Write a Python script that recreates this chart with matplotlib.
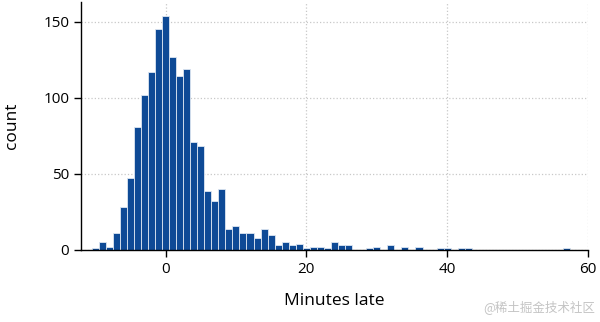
import numpy as np
import matplotlib.pyplot as plt

# minutes late (bin centres) and counts
minutes = list(range(-10, 58))
counts = [1, 5, 2, 11, 28, 47, 81, 102, 117, 145,
          154, 127, 114, 119, 71, 68, 39, 32, 40, 14,
          16, 11, 11, 8, 14, 10, 3, 5, 3, 4,
          1, 2, 2, 1, 5, 3, 3, 0, 0, 1,
          2, 0, 3, 0, 2, 0, 2, 0, 0, 1,
          1, 0, 1, 1, 0, 0, 0, 0, 0, 0,
          0, 0, 0, 0, 0, 0, 0, 1]
xticks = [0, 20, 40, 60]
yticks = [0, 50, 100, 150]

plt.rcParams['font.family'] = ['Open Sans', 'DejaVu Sans']

fig = plt.figure(figsize=(6, 3.22), dpi=100)
ax = fig.add_axes([0.135, 0.224, 0.845, 0.77])

ax.bar(minutes, counts, width=1.0, color='#0e4a96', edgecolor='#dde6f2',
       linewidth=0.6, zorder=2)

ax.set_xlim(-12, 60)
ax.set_ylim(0, 163)
ax.set_xticks(xticks)
ax.set_yticks(yticks)
ax.tick_params(labelsize=11, length=5, width=1, colors='black')

ax.grid(True, linestyle=':', color='#c8c8c8', linewidth=0.9, zorder=0)
ax.set_axisbelow(True)

for side in ['top', 'right']:
    ax.spines[side].set_visible(False)
for side in ['left', 'bottom']:
    ax.spines[side].set_linewidth(1)

ax.set_xlabel('Minutes late', fontsize=12.5, labelpad=12)
ax.set_ylabel('count', fontsize=12.5, labelpad=17)

fig.text(0.992, 0.045, '@稀土掘金技术社区', ha='right', va='center', fontsize=9,
         color='#c4c4c4', family=['Noto Sans CJK SC', 'DejaVu Sans'])

fig.savefig('out.png', dpi=100)
